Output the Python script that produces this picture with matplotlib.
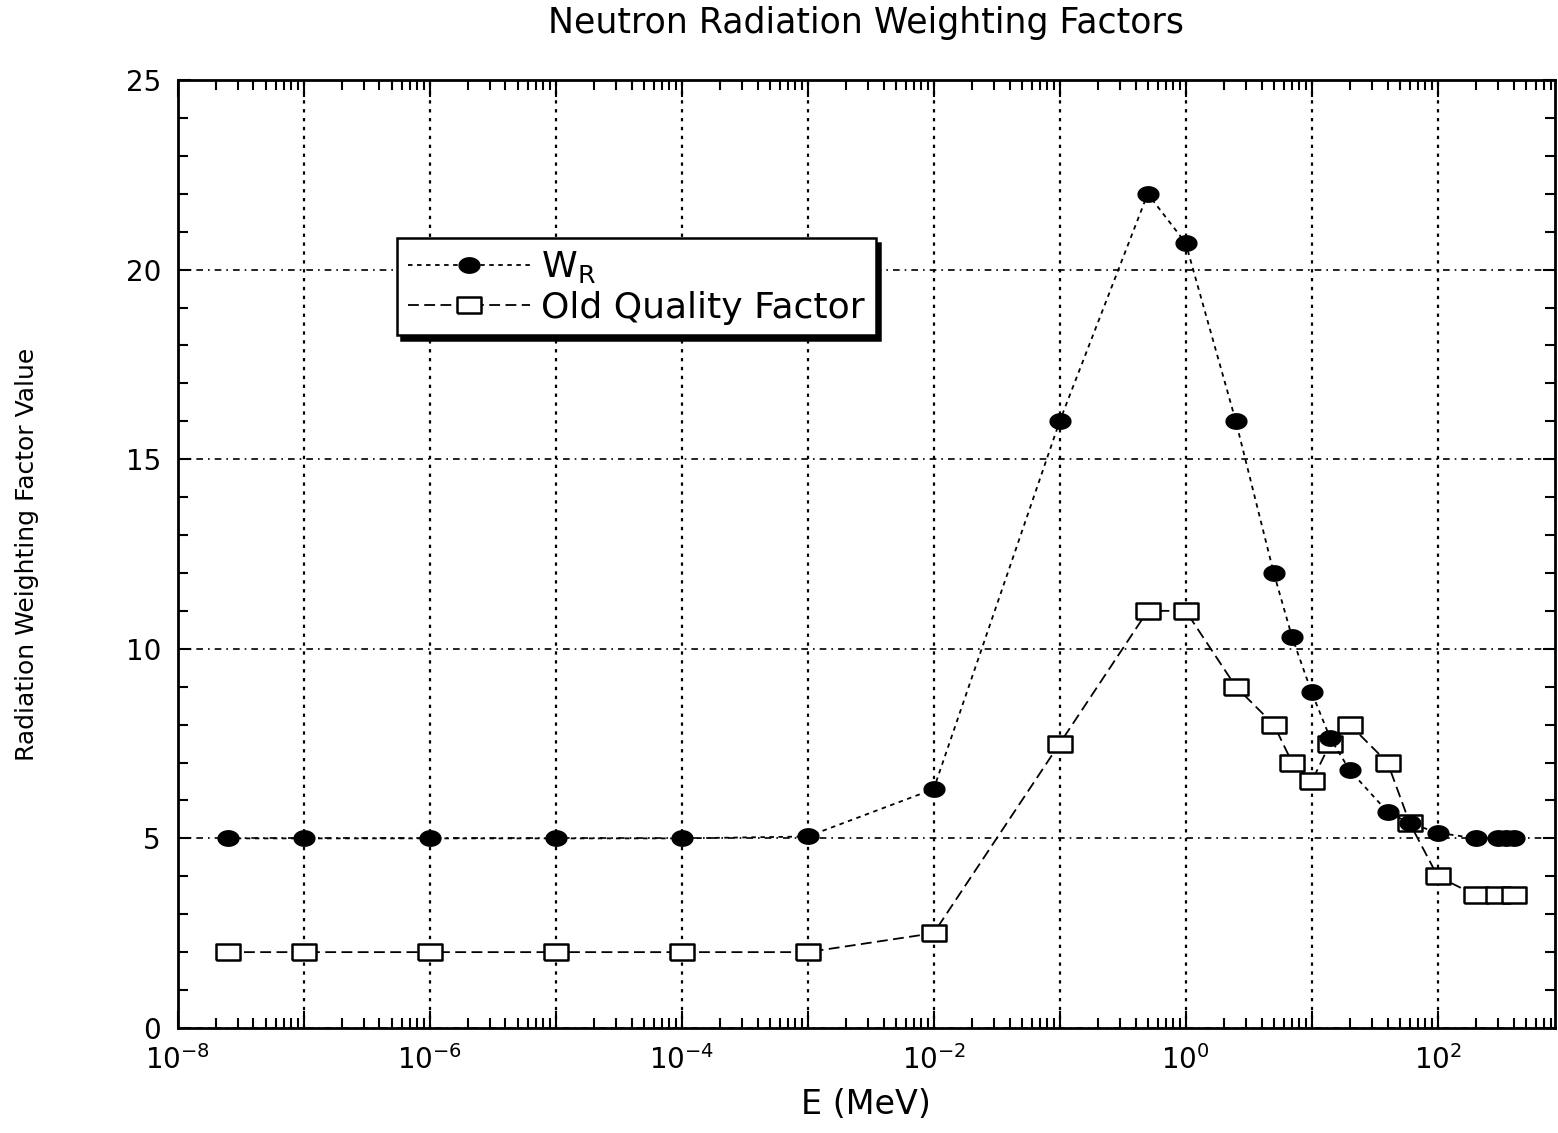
import numpy as np
import matplotlib
matplotlib.use("Agg")
from matplotlib import pyplot as plt
from matplotlib.ticker import LogLocator, MultipleLocator, FuncFormatter, NullFormatter

# neutron energy (MeV) and factor values
energy_wr = [2.5e-8, 1e-7, 1e-6, 1e-5, 1e-4, 1e-3, 1e-2, 0.1, 0.5, 1.0, 2.5, 5.0, 7.0,
             10.0, 14.0, 20.0, 40.0, 60.0, 100.0, 200.0, 300.0, 350.0, 400.0]
w_r = [5.0, 5.0, 5.0, 5.0, 5.0, 5.05, 6.3, 16.0, 22.0, 20.7, 16.0, 12.0, 10.3,
       8.85, 7.65, 6.8, 5.7, 5.4, 5.15, 5.0, 5.0, 5.0, 5.0]

energy_q = [2.5e-8, 1e-7, 1e-6, 1e-5, 1e-4, 1e-3, 1e-2, 0.1, 0.5, 1.0, 2.5, 5.0, 7.0,
            10.0, 14.0, 20.0, 40.0, 60.0, 100.0, 200.0, 300.0, 400.0]
old_q = [2.0, 2.0, 2.0, 2.0, 2.0, 2.0, 2.5, 7.5, 11.0, 11.0, 9.0, 8.0, 7.0,
         6.5, 7.5, 8.0, 7.0, 5.4, 4.0, 3.5, 3.5, 3.5]

plt.rcParams['font.family'] = ['DejaVu Sans']
plt.rcParams['mathtext.fontset'] = 'dejavusans'

fig = plt.figure(figsize=(15.58, 11.33), dpi=100)
ax = fig.add_axes([0.114, 0.0927, 0.884, 0.8367])

# wide marker shapes (the original looks stretched sideways)
t = np.linspace(0, 2 * np.pi, 40)
ell = list(zip(1.35 * np.cos(t), np.sin(t)))
rect = [(-1.5, -1), (1.5, -1), (1.5, 1), (-1.5, 1), (-1.5, -1)]

ax.plot(energy_wr, w_r, color='black', lw=1.3, ls=(0, (2.5, 2.5)),
        marker=ell, ms=15, mfc='black', mec='black', label=r'W$_{\rm R}$', zorder=4)
ax.plot(energy_q, old_q, color='black', lw=1.3, ls=(0, (6, 3)),
        marker=rect, ms=17, mfc='white', mec='black', mew=1.8,
        label='Old Quality Factor', zorder=3)

ax.set_xscale('log')
ax.set_xlim(1e-8, 10 ** 2.93)
ax.set_ylim(0, 25)

ax.xaxis.set_major_locator(LogLocator(base=10, numticks=30))
ax.xaxis.set_minor_locator(LogLocator(base=10, subs=np.arange(2, 10), numticks=30))
def xfmt(v, pos):
    e = int(round(np.log10(v)))
    if e % 2:
        return ''
    return r'$10^{%d}$' % e
ax.xaxis.set_major_formatter(FuncFormatter(xfmt))
ax.xaxis.set_minor_formatter(NullFormatter())
ax.yaxis.set_major_locator(MultipleLocator(5))
ax.yaxis.set_minor_locator(MultipleLocator(1))

ax.tick_params(which='both', direction='in', top=True, right=True, width=1.5,
               labelsize=20, pad=12)
ax.tick_params(which='major', length=12)
ax.tick_params(which='minor', length=7)
ax.tick_params(axis='y', which='major', length=9)
for sp in ax.spines.values():
    sp.set_linewidth(2)

ax.xaxis.grid(True, which='major', color='black', ls=(0, (1.5, 2.5)), lw=1.6)
ax.yaxis.grid(True, which='major', color='black', ls=(0, (4, 3, 1, 3)), lw=1.2)

ax.set_xlabel('E (MeV)', fontsize=24, labelpad=10)
ax.set_ylabel('Radiation Weighting Factor Value', fontsize=18, labelpad=62)
ax.set_title('Neutron Radiation Weighting Factors', fontsize=25, pad=34)

leg = ax.legend(loc='upper left', bbox_to_anchor=(0.146, 0.852), fontsize=26,
                frameon=True, fancybox=False, edgecolor='black',
                shadow={'color': 'black', 'alpha': 1.0, 'ox': 3, 'oy': -3},
                borderpad=0.3, handlelength=3.4, handletextpad=0.3,
                labelspacing=0.15)
leg.get_frame().set_linewidth(1.8)
leg.get_frame().set_alpha(1)

fig.savefig('out.png', dpi=100)
